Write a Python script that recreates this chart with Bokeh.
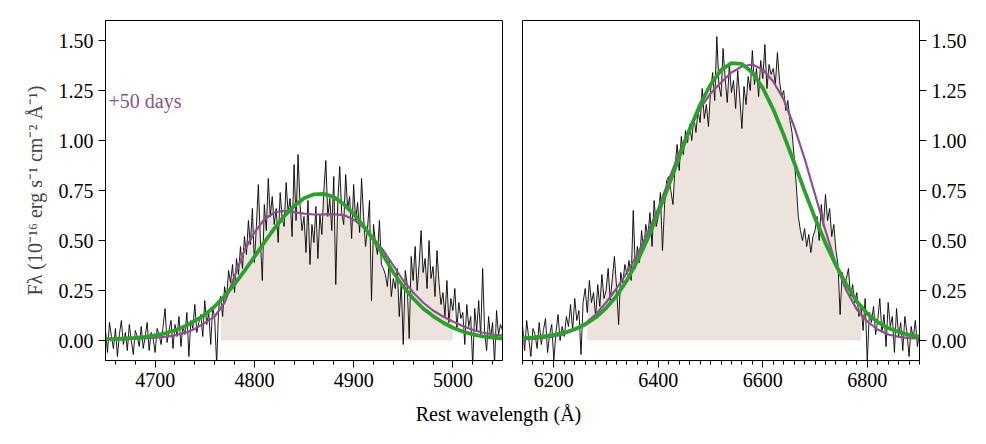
import numpy as np
from bokeh.plotting import figure
from bokeh.layouts import row, column
from bokeh.models import FixedTicker, NumeralTickFormatter, Label, Range1d
from bokeh.embed import file_html
from bokeh.resources import INLINE

FONT = "Liberation Serif"
PURPLE = "#8c508c"
GREEN = "#2ca02c"
BEIGE = "#ece3dd"

# ---------------- data: left panel (H-beta region) ----------------
wave_left = np.arange(4650, 5051, 2)
flux_left = [
    0.05, -0.06, 0.09, 0.02, -0.04, 0.06, -0.08, 0.03, 0.10, -0.02,
    0.04, -0.05, 0.08, 0.00, -0.07, 0.05, 0.02, -0.03, 0.07, -0.04,
    0.02, 0.09, -0.05, 0.04, 0.01, -0.06, 0.06, 0.03, -0.02, 0.07,
    0.16, -0.01, 0.05, 0.10, -0.04, 0.08, 0.02, 0.12, -0.03, 0.07,
    0.03, 0.14, -0.08, 0.10, 0.06, 0.18, 0.04, 0.09, 0.13, 0.02,
    0.20, 0.08, 0.14, -0.02, 0.17, 0.11, -0.12, 0.16, 0.22, 0.12,
    0.27, 0.21, 0.35, 0.29, 0.38, 0.24, 0.41, 0.33, 0.47, 0.36,
    0.52, 0.43, 0.60, 0.48, 0.66, 0.39, 0.57, 0.78, 0.51, 0.30,
    0.68, 0.55, 0.81, 0.62, 0.72, 0.58, 0.66, 0.49, 0.74, 0.61,
    0.57, 0.79, 0.64, 0.71, 0.52, 0.88, 0.60, 0.93, 0.68, 0.55,
    0.62, 0.44, 0.70, 0.38, 0.58, 0.49, 0.67, 0.41, 0.63, 0.53,
    0.75, 0.90, 0.62, 0.71, 0.55, 0.82, 0.28, 0.69, 0.87, 0.64,
    0.58, 0.83, 0.66, 0.72, 0.51, 0.78, 0.60, 0.69, 0.54, 0.81,
    0.62, 0.47, 0.56, 0.70, 0.20, 0.58, 0.49, 0.43, 0.60, 0.38,
    0.36, 0.33, 0.27, 0.40, 0.22, 0.31, 0.26, 0.36, 0.12, 0.29,
    -0.02, 0.35, 0.28, 0.01, 0.42, 0.30, 0.47, 0.25, 0.38, 0.55,
    0.34, 0.41, 0.26, 0.50, 0.31, 0.37, 0.22, 0.45, 0.29, 0.18,
    0.24, 0.12, 0.30, 0.09, 0.21, 0.15, 0.26, 0.06, 0.19, 0.11,
    0.14, -0.02, 0.18, 0.07, 0.12, -0.13, 0.16, 0.05, 0.20, 0.02,
    0.36, 0.04, -0.05, 0.12, 0.01, 0.09, -0.12, 0.15, 0.03, 0.08,
    0.05,
]
model_wave_left = np.arange(4650, 5051, 10)
gauss_left = [
    0.007, 0.008, 0.010, 0.013, 0.018, 0.025, 0.036, 0.051, 0.071, 0.098,
    0.128, 0.170, 0.222, 0.282, 0.348, 0.418, 0.490, 0.559, 0.622, 0.673,
    0.711, 0.731, 0.733, 0.717, 0.682, 0.633, 0.572, 0.505, 0.425, 0.340,
    0.270, 0.210, 0.160, 0.122, 0.090, 0.064, 0.045, 0.031, 0.021, 0.014,
    0.010,
]
flat_left = [
    0.005, 0.006, 0.007, 0.009, 0.011, 0.014, 0.018, 0.026, 0.038, 0.058,
    0.088, 0.120, 0.190, 0.320, 0.450, 0.540, 0.605, 0.640, 0.648, 0.642,
    0.634, 0.630, 0.631, 0.632, 0.627, 0.605, 0.565, 0.510, 0.450, 0.375,
    0.300, 0.240, 0.190, 0.150, 0.120, 0.095, 0.072, 0.053, 0.040, 0.030,
    0.025,
]
fill_range_left = (4765, 5000)

# ---------------- data: right panel (H-alpha region) ----------------
wave_right = np.arange(6140, 6901, 4)
flux_right = [
    0.08, -0.05, 0.10, 0.01, -0.08, 0.06, 0.03, -0.04, 0.09, -0.02,
    0.05, 0.11, -0.06, 0.03, 0.08, -0.10, 0.04, 0.13, 0.00, 0.07,
    0.02, 0.12, 0.07, 0.18, 0.05, 0.21, 0.10, 0.15, -0.07, 0.19,
    0.26, 0.14, 0.30, 0.19, 0.24, 0.12, 0.28, 0.17, 0.33, 0.21,
    0.25, 0.36, 0.20, 0.31, 0.42, 0.27, 0.08, 0.34, 0.29, 0.38,
    0.33, 0.40, 0.30, 0.65, 0.36, 0.47, 0.39, 0.55, 0.45, 0.58,
    0.52, 0.64, 0.47, 0.70, 0.57, 0.62, 0.74, 0.45, 0.68, 0.80,
    0.82, 0.75, 0.68, 0.87, 0.98, 0.85, 1.02, 0.93, 1.05, 0.99,
    1.08, 1.00, 1.12, 1.04, 1.15, 1.09, 1.26, 1.11, 1.18, 1.07,
    1.25, 1.34, 1.20, 1.52, 1.28, 1.22, 1.46, 1.31, 1.19, 1.38,
    1.24, 1.30, 1.16, 1.35, 1.21, 1.06, 1.27, 1.18, 1.32, 1.25,
    1.45, 1.28, 1.36, 1.22, 1.40, 1.31, 1.48, 1.26, 1.38, 1.33,
    1.36, 1.28, 1.44, 1.30, 1.22, 1.25, 1.15, 1.20, 1.10, 1.04,
    0.92, 0.78, 0.62, 0.55, 0.50, 0.56, 0.47, 0.53, 0.44, 0.52,
    0.55, 0.62, 0.50, 0.68, 0.57, 0.73, 0.60, 0.66, 0.52, 0.58,
    0.45, 0.38, 0.13, 0.34, 0.27, 0.31, 0.36, 0.22, 0.28, 0.19,
    0.24, 0.12, 0.18, 0.05, 0.21, -0.11, 0.14, 0.09, 0.17, 0.03,
    0.10, 0.21, 0.04, 0.13, -0.03, 0.19, 0.07, 0.12, -0.06, 0.16,
    0.02, 0.09, -0.05, 0.12, 0.04, -0.08, 0.07, 0.01, 0.10, -0.03,
    0.04,
]
model_wave_right = np.arange(6140, 6901, 20)
gauss_right = [
    0.014, 0.016, 0.021, 0.028, 0.039, 0.056, 0.080, 0.115, 0.162, 0.223,
    0.302, 0.398, 0.511, 0.638, 0.776, 0.918, 1.055, 1.179, 1.280, 1.352,
    1.387, 1.383, 1.340, 1.262, 1.156, 1.028, 0.890, 0.748, 0.612, 0.487,
    0.377, 0.280, 0.195, 0.135, 0.092, 0.062, 0.042, 0.028, 0.018,
]
flat_right = [
    0.005, 0.008, 0.013, 0.020, 0.032, 0.055, 0.085, 0.130, 0.190, 0.260,
    0.340, 0.430, 0.540, 0.660, 0.800, 0.940, 1.060, 1.160, 1.235, 1.290,
    1.340, 1.370, 1.380, 1.355, 1.295, 1.205, 1.070, 0.910, 0.730, 0.550,
    0.380, 0.250, 0.155, 0.095, 0.055, 0.030, 0.018, 0.012, 0.010,
]
fill_range_right = (6262, 6790)

y_ticks = [0.0, 0.25, 0.5, 0.75, 1.0, 1.25, 1.5]
x_ticks_left = [4700, 4800, 4900, 5000]
x_ticks_right = [6200, 6400, 6600, 6800]
epoch_label = "+50 days"
y_label = "Fλ (10⁻¹⁶ erg s⁻¹ cm⁻² Å⁻¹)"
x_label = "Rest wavelength (Å)"


def style(p, xticks, xminor):
    p.xgrid.visible = False
    p.ygrid.visible = False
    p.outline_line_color = "black"
    p.outline_line_width = 1
    p.xaxis.ticker = FixedTicker(ticks=xticks, minor_ticks=xminor)
    p.xaxis.formatter = NumeralTickFormatter(format="0")
    p.yaxis.ticker = FixedTicker(ticks=y_ticks, minor_ticks=[])
    p.yaxis.formatter = NumeralTickFormatter(format="0.00")
    for ax in p.xaxis + p.yaxis:
        ax.axis_line_color = "black"
        ax.major_tick_line_color = "black"
        ax.minor_tick_line_color = "black"
        ax.major_tick_out = 7
        ax.major_tick_in = 0
        ax.minor_tick_out = 4
        ax.minor_tick_in = 0
        ax.major_label_text_font = FONT
        ax.major_label_text_font_size = "20px"
        ax.major_label_text_color = "black"
        ax.major_label_standoff = 5
        ax.axis_label_text_font = FONT
        ax.axis_label_text_font_size = "20px"
        ax.axis_label_text_font_style = "normal"


def panel(p, wave, flux, mwave, gauss, flat, frange):
    wave = np.asarray(wave, dtype=float)
    flux = np.asarray(flux, dtype=float)
    m = (wave >= frange[0]) & (wave <= frange[1])
    top = np.clip(flux[m], 0, None)
    p.varea(x=wave[m], y1=np.zeros(m.sum()), y2=top, fill_color=BEIGE, fill_alpha=1.0)
    p.line(wave, flux, line_color="black", line_width=0.9)
    p.line(mwave, flat, line_color=PURPLE, line_width=2.2)
    p.line(mwave, gauss, line_color=GREEN, line_width=3.8)


common = dict(height=400, y_range=Range1d(-0.1, 1.6), output_backend="svg",
              toolbar_location=None, min_border_top=20, min_border_bottom=40)

p1 = figure(width=512, x_range=Range1d(4650, 5050), min_border_left=105,
            min_border_right=10, **common)
style(p1, x_ticks_left, list(range(4660, 5050, 20)))
p1.yaxis.axis_label = y_label
p1.yaxis.axis_label_standoff = 10
panel(p1, wave_left, flux_left, model_wave_left, gauss_left, flat_left, fill_range_left)
p1.add_layout(Label(x=4653, y=1.2, text=epoch_label, text_color=PURPLE,
                    text_font=FONT, text_font_size="20px", text_baseline="middle"))

p2 = figure(width=474, x_range=Range1d(6140, 6900), y_axis_location="right",
            min_border_left=10, min_border_right=67, **common)
style(p2, x_ticks_right, list(range(6140, 6901, 20)))
panel(p2, wave_right, flux_right, model_wave_right, gauss_right, flat_right, fill_range_right)

p3 = figure(width=986, height=44, x_range=Range1d(0, 986), y_range=Range1d(0, 44),
            x_axis_type=None, y_axis_type=None, output_backend="svg",
            toolbar_location=None, min_border=0)
p3.xgrid.visible = False
p3.ygrid.visible = False
p3.outline_line_color = None
p3.add_layout(Label(x=498, y=31, text=x_label, text_font=FONT, text_font_size="20px",
                    text_align="center", text_baseline="middle", text_color="black"))

layout = column(row(p1, p2), p3)
open("out.html", "w").write(file_html(layout, INLINE))
